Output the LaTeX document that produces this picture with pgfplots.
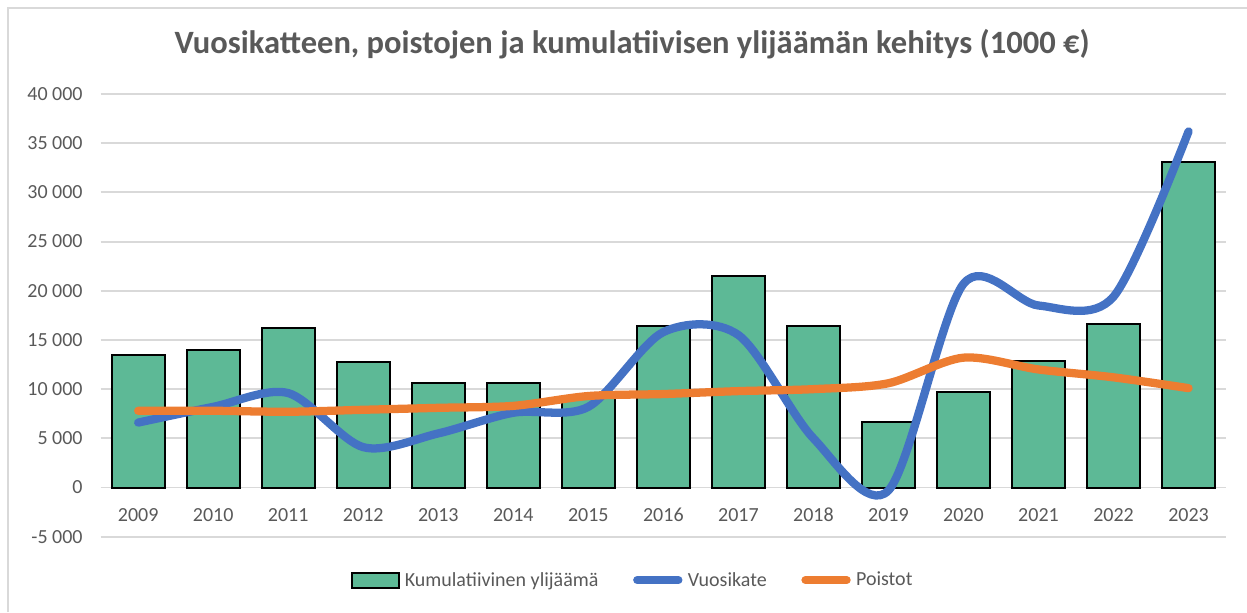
\documentclass[border=0pt]{standalone}
\usepackage{fontspec}
\setmainfont{Carlito}
\usepackage{pgfplots}
\pgfplotsset{compat=1.18}
\usetikzlibrary{calc}
\definecolor{barg}{HTML}{5DB996}
\definecolor{vkblue}{HTML}{4472C4}
\definecolor{poorange}{HTML}{ED7D31}
\definecolor{txtgray}{HTML}{595959}
\definecolor{gridgray}{HTML}{D9D9D9}

\begin{document}
\begin{tikzpicture}
\begin{axis}[name=ax, at={(0,0)}, anchor=south west,
  scale only axis, width=844pt, height=332pt,
  xmin=-0.5, xmax=14.5, ymin=-5000, ymax=40000,
  scaled y ticks=false,
  xtick={0,...,14},
  xticklabels={2009,2010,2011,2012,2013,2014,2015,2016,2017,2018,2019,2020,2021,2022,2023},
  ytick={-5000,0,5000,10000,15000,20000,25000,30000,35000,40000},
  yticklabels={-5 000,0,5 000,10 000,15 000,20 000,25 000,30 000,35 000,40 000},
  axis line style={draw=none}, major tick length=0pt,
  ymajorgrids, grid style={gridgray, line width=1.4pt},
  tick label style={font=\fontsize{15}{18}\selectfont, text=txtgray},
  xticklabel style={anchor=center, yshift=16.3pt},
  yticklabel style={anchor=east, xshift=-10pt},
  legend columns=3,
  legend style={at={(0.473,-0.098)}, anchor=center, draw=none, fill=none,
    font=\fontsize{15}{18}\selectfont, text=txtgray,
    /tikz/every even column/.append style={column sep=24pt},
    /tikz/column sep=2pt},
  ]
\addplot[ybar, bar width=39.75pt, fill=barg, draw=black, line width=1.5pt,
  legend image code/.code={\draw[fill=barg, draw=black, line width=1.5pt] (0pt,-5.6pt) rectangle (35pt,5.6pt);}]
  coordinates {(0,13450) (1,13950) (2,16200) (3,12800) (4,10600) (5,10600) (6,9100)
    (7,16400) (8,21500) (9,16400) (10,6650) (11,9700) (12,12850) (13,16600) (14,33100)};
\addlegendentry{Kumulatiivinen ylijäämä}
\addplot[smooth, vkblue, line width=6.2pt, line cap=round, line join=round,
  legend image code/.code={\draw[vkblue, line width=6pt, line cap=round] (3pt,0pt) -- (34pt,0pt);}]
  coordinates {(0,6600) (1,8200) (2,9600) (3,4100) (4,5500) (5,7600) (6,8200)
    (7,15800) (8,15500) (9,5000) (10,-300) (11,20700) (12,18500) (13,19400) (14,36200)};
\addlegendentry{Vuosikate}
\addplot[smooth, poorange, line width=6.2pt, line cap=round, line join=round,
  legend image code/.code={\draw[poorange, line width=6pt, line cap=round] (3pt,0pt) -- (34pt,0pt);}]
  coordinates {(0,7800) (1,7800) (2,7700) (3,7900) (4,8100) (5,8300) (6,9300)
    (7,9500) (8,9800) (9,10000) (10,10600) (11,13200) (12,12000) (13,11200) (14,10100)};
\addlegendentry{Poistot}
\end{axis}
\useasboundingbox ($(ax.south west)+(-75.5pt,-56.5pt)$) rectangle ($(ax.south west)+(859.7pt,402.5pt)$);
\draw[gridgray, line width=1.5pt] ($(ax.south west)+(-69.5pt,-56.5pt)$) -- ($(ax.south west)+(-69.5pt,396.5pt)$) -- ($(ax.south west)+(859.7pt,396.5pt)$);
\node[font=\fontsize{24.4}{29}\selectfont\bfseries, text=txtgray] at ($(ax.south west)+(398.5pt,369.5pt)$)
  {Vuosikatteen, poistojen ja kumulatiivisen ylijäämän kehitys (1000 €)};
\end{tikzpicture}
\end{document}
